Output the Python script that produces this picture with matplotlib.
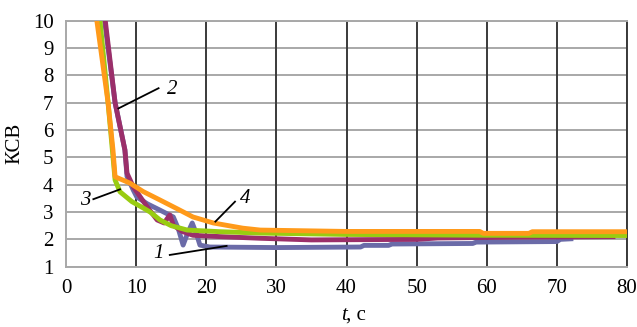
import matplotlib
matplotlib.use("Agg")
import matplotlib.pyplot as plt

# Curve 1 (blue)
t1 = [5.5, 7.0, 8.4, 8.7, 9.6, 10.1, 11.6, 13.4, 15.3, 16.0, 16.7, 17.3, 18.0, 18.6, 19.1, 20.5, 30, 42, 42.5, 46, 46.5, 58, 58.5, 70, 70.5, 72]
v1 = [10, 7.0, 5.27, 4.3, 3.8, 3.55, 3.3, 3.07, 2.82, 2.4, 1.79, 2.2, 2.6, 2.2, 1.79, 1.72, 1.70, 1.72, 1.78, 1.78, 1.83, 1.85, 1.9, 1.92, 2.0, 2.02]
# Curve 2 (purple)
t2 = [5.6, 7.0, 8.4, 8.7, 9.6, 11.6, 13.0, 14.0, 14.8, 15.3, 16.5, 18.1, 22, 27.7, 35, 50, 53, 65, 78]
v2 = [10, 7.0, 5.27, 4.42, 3.92, 3.18, 2.71, 2.6, 2.89, 2.52, 2.3, 2.15, 2.1, 2.04, 1.98, 2.0, 2.05, 2.08, 2.1]
# Curve 3 (green)
t3 = [4.85, 6.0, 7.0, 7.7, 9.4, 11.0, 12.0, 13.4, 15.0, 17.3, 22, 27.7, 40, 60, 80]
v3 = [10, 7.0, 4.17, 3.74, 3.38, 3.15, 3.0, 2.71, 2.5, 2.34, 2.28, 2.23, 2.18, 2.15, 2.14]
# Curve 4 (orange)
t4 = [4.4, 6.0, 6.7, 7.0, 9.1, 11.0, 13.4, 16.0, 18.1, 21.0, 25.2, 27.7, 40, 59, 59.5, 66, 66.5, 80]
v4 = [10, 7.0, 5.27, 4.29, 4.06, 3.75, 3.44, 3.1, 2.82, 2.6, 2.41, 2.34, 2.29, 2.29, 2.22, 2.22, 2.28, 2.28]

xticks = [0, 10, 20, 30, 40, 50, 60, 70, 80]
yticks = [1, 2, 3, 4, 5, 6, 7, 8, 9, 10]

plt.rcParams['font.family'] = ['Liberation Serif', 'DejaVu Serif']
fig = plt.figure(figsize=(6.37, 3.27), dpi=100)
ax = fig.add_axes([66/637, 1-266.7/327, (627-66)/637, (266.7-20.7)/327])

for y in yticks:
    ax.axhline(y, color='#a8a8a8', lw=1.4, zorder=1)
for x in xticks[1:]:
    ax.axvline(x, color='#3a3a3a', lw=1.4, zorder=1)

lw = 3.5
ax.plot(t1, v1, color='#6b6ba8', lw=lw, zorder=3, solid_joinstyle='round')
ax.plot(t2, v2, color='#9b2f6a', lw=lw, zorder=4, solid_joinstyle='round')
ax.plot(t3, v3, color='#99cc11', lw=lw, zorder=5, solid_joinstyle='round')
ax.plot(t4, v4, color='#ff9a1a', lw=lw, zorder=6, solid_joinstyle='round')

ax.set_xlim(0, 80)
ax.set_ylim(1, 10)
ax.set_xticks(xticks)
ax.set_yticks(yticks)
ax.tick_params(length=0, labelsize=15, pad=9)
for s in ['left', 'bottom', 'top']:
    ax.spines[s].set_color('#a8a8a8')
    ax.spines[s].set_linewidth(1.4)
ax.spines['right'].set_color('#3a3a3a')
ax.spines['right'].set_linewidth(1.4)

ax.set_ylabel('КСВ', fontsize=15, labelpad=6)
xc = (66 + 627) / 2 / 637
fig.text(xc, 1-315/327, 't', fontsize=15, style='italic', ha='right', va='center')
fig.text(xc, 1-315/327, ', с', fontsize=15, ha='left', va='center')

ann = dict(color='black', lw=1.3)
ax.plot([7.47, 13.2], [6.79, 7.53], zorder=8, **ann)
ax.text(15.1, 7.49, '2', fontsize=15, style='italic', ha='center', va='center', zorder=8)
ax.plot([3.9, 7.7], [3.47, 3.83], zorder=8, **ann)
ax.text(2.7, 3.44, '3', fontsize=15, style='italic', ha='center', va='center', zorder=8)
ax.plot([24.1, 21.3], [3.38, 2.65], zorder=8, **ann)
ax.text(25.5, 3.5, '4', fontsize=15, style='italic', ha='center', va='center', zorder=8)
ax.plot([14.8, 22.9], [1.43, 1.76], zorder=8, **ann)
ax.text(13.2, 1.49, '1', fontsize=15, style='italic', ha='center', va='center', zorder=8)

fig.savefig('out.png', dpi=100)
